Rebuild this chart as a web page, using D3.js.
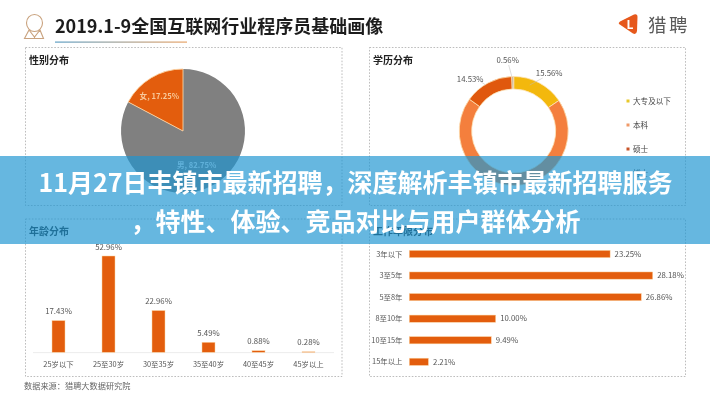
<!DOCTYPE html>
<html><head><meta charset="utf-8">
<script src="https://cdnjs.cloudflare.com/ajax/libs/d3/7.8.5/d3.min.js"></script>
<style>html,body{margin:0;padding:0;background:#fff}svg{display:block}
text{font-family:"Noto Sans CJK SC","Noto Sans",sans-serif}</style></head><body>
<svg id="c" width="710" height="400"></svg>
<script>
const pageTitle = "2019.1-9全国互联网行业程序员基础画像";
const brand = "猎聘";
const source = "数据来源：猎聘大数据研究院";
const bannerLines = ["11月27日丰镇市最新招聘，深度解析丰镇市最新招聘服务", "，特性、体验、竞品对比与用户群体分析"];
const panelTitles = ["性别分布", "学历分布", "年龄分布", "工作年限分布"];

const genderNames = ["女", "男"];
const genderValues = [17.25, 82.75];

const eduNames = ["大专及以下", "本科", "硕士", "博士"];
const eduValues = [15.56, 69.35, 14.53, 0.56];
const eduColors = ["#f3b80f", "#f47f3d", "#e0590b", "#b9a99a"];

const ageNames = ["25岁以下", "25至30岁", "30至35岁", "35至40岁", "40至45岁", "45岁以上"];
const ageValues = [17.43, 52.96, 22.96, 5.49, 0.88, 0.28];

const yearNames = ["3年以下", "3至5年", "5至8年", "8至10年", "10至15年", "15年以上"];
const yearValues = [23.25, 28.18, 26.86, 10.00, 9.49, 2.21];

const ORANGE = "#e35d08", EDGE = "#fbd3a4", TXT = "#555";
const svg = d3.select("#c");
const defs = svg.append("defs");
const grad = defs.append("linearGradient").attr("id", "ul");
grad.append("stop").attr("offset", "0").attr("stop-color", "#5f9fc4");
grad.append("stop").attr("offset", "1").attr("stop-color", "#e8a468");
defs.append("filter").attr("id", "soft").attr("x", "-5%").attr("y", "-5%").attr("width", "110%").attr("height", "110%")
  .append("feGaussianBlur").attr("stdDeviation", 0.35);

const g = svg.append("g").attr("filter", "url(#soft)");
const pct = v => v.toFixed(2) + "%";

// header
g.append("text").attr("x", 55).attr("y", 33).attr("font-size", 18).attr("font-weight", 700).attr("fill", "#1c1c1c").text(pageTitle);
g.append("rect").attr("x", 55).attr("y", 41.5).attr("width", 132).attr("height", 1.2).attr("fill", "url(#ul)");
// person icon
const ic = g.append("g").attr("fill", "none").attr("stroke", "#c9a27e").attr("stroke-width", 1.1);
ic.append("ellipse").attr("cx", 34.5).attr("cy", 23).attr("rx", 8).attr("ry", 8.5);
ic.append("path").attr("d", "M29 30 L24.5 38.5 L43.5 38.5 L40 30 M29 30 L34.5 37 L40 30 M34.5 37 L34.5 38.5");
// logo
g.append("path").attr("d", "M619 24 Q618 23 620 21.5 L634 14.5 Q637.5 13.5 637.5 17 L637 31 Q636.5 35 633 33.5 Z").attr("fill", "#e6591a");
g.append("text").attr("x", 630).attr("y", 29).attr("font-size", 12).attr("font-weight", 700).attr("fill", "#fff").attr("text-anchor", "middle").text("L");
g.append("text").attr("x", 648).attr("y", 31.5).attr("font-size", 18.5).attr("letter-spacing", 2.5).attr("fill", "#5a5a5a").text(brand);

// panels
const panelX = [25.5, 369.5], panelY = [47.5, 219];
const panelW = [316.5, 316], panelH = [158, 157.5];
[0, 1, 2, 3].forEach(i => {
  const x = panelX[i % 2], y = panelY[i >> 1];
  g.append("rect").attr("x", x).attr("y", y).attr("width", panelW[i % 2]).attr("height", panelH[i >> 1])
    .attr("fill", "none").attr("stroke", "#a0a0a0").attr("stroke-width", 0.7).attr("stroke-dasharray", "1.6 1.6");
  g.append("text").attr("x", x + 3.5).attr("y", y + 16).attr("font-size", 10).attr("font-weight", 700).attr("fill", "#222").text(panelTitles[i]);
});

// gender pie
const pieG = g.append("g").attr("transform", "translate(183,131)");
const tau = 2 * Math.PI;
const genderPie = d3.pie().sort(null).startAngle(-tau * genderValues[0] / 100).endAngle(tau * (1 - genderValues[0] / 100))(genderValues);
const pieArc = d3.arc().innerRadius(0).outerRadius(62);
const genderFill = [ORANGE, "#808080"], genderStroke = [EDGE, "#808080"];
pieG.selectAll("path").data([genderPie[1], genderPie[0]]).join("path").attr("d", pieArc)
  .attr("fill", (d, i) => genderFill[1 - i]).attr("stroke", (d, i) => genderStroke[1 - i]).attr("stroke-width", (d, i) => i ? 0.9 : 0);
const labelArc = d3.arc().innerRadius(40).outerRadius(40);
const genderLabelShift = [[-3, 2.5], [-7, 2.8]];
pieG.selectAll("text").data(genderPie).join("text")
  .attr("transform", (d, i) => { const c = labelArc.centroid(d); return `translate(${c[0] + genderLabelShift[i][0]},${c[1] + genderLabelShift[i][1]})`; })
  .attr("text-anchor", "middle").attr("font-size", 7.6).attr("font-weight", 700).attr("fill", (d, i) => i ? "#e8e8e8" : "#f8c79a")
  .text((d, i) => `${genderNames[i]}, ${pct(d.value)}`);

// education donut
const donG = g.append("g").attr("transform", "translate(513.7,131)");
const eduPie = d3.pie().sort(null)(eduValues);
const donArc = d3.arc().innerRadius(42).outerRadius(54.5);
donG.selectAll("path").data(eduPie).join("path").attr("d", donArc)
  .attr("fill", (d, i) => eduColors[i]).attr("stroke", "#fde3b8").attr("stroke-width", 0.8);
const eduLabelPos = [[35.5, -58], null, [-43.5, -52], [-6, -70.5]];
const eduLeadEnd = [[16, -46], null, [-28, -46], [-2, -55]];
const eduLeadStart = [[29, -53], null, [-34, -50], [-5, -66]];
eduValues.forEach((v, i) => {
  if (!eduLabelPos[i]) return;
  donG.append("line").attr("x1", eduLeadStart[i][0]).attr("y1", eduLeadStart[i][1]).attr("x2", eduLeadEnd[i][0]).attr("y2", eduLeadEnd[i][1])
    .attr("stroke", "#bbb").attr("stroke-width", 0.5);
  donG.append("text").attr("x", eduLabelPos[i][0]).attr("y", eduLabelPos[i][1] + 2.7).attr("text-anchor", "middle")
    .attr("font-size", 7.8).attr("fill", TXT).text(pct(v));
});
const legY = d3.scalePoint().domain(eduNames).range([101, 173]);
const legendColors = ["#e8c82a", "#f09a68", "#c8552a", "#8a8a8a"];
eduNames.forEach((n, i) => {
  g.append("rect").attr("x", 626.5).attr("y", legY(n) - 1.5).attr("width", 3).attr("height", 3).attr("fill", legendColors[i]);
  g.append("text").attr("x", 633).attr("y", legY(n) + 2.7).attr("font-size", 7.6).attr("fill", "#444").text(n);
});

// age bars
const ageX = d3.scaleBand().domain(ageNames).range([33.5, 333.5]).paddingInner(0.74).paddingOuter(0.37);
const ageY = d3.scaleLinear().domain([0, 52.96]).range([352.3, 256]);
g.append("line").attr("x1", 33).attr("x2", 334).attr("y1", 352.6).attr("y2", 352.6).attr("stroke", "#e4e4e4").attr("stroke-width", 0.7);
const ageG = g.append("g");
ageG.selectAll("rect").data(ageValues).join("rect")
  .attr("x", (d, i) => ageX(ageNames[i])).attr("width", ageX.bandwidth())
  .attr("y", d => ageY(d)).attr("height", d => ageY(0) - ageY(d))
  .attr("fill", ORANGE).attr("stroke", EDGE).attr("stroke-width", 0.5);
ageG.selectAll("text.v").data(ageValues).join("text").attr("class", "v")
  .attr("x", (d, i) => ageX(ageNames[i]) + ageX.bandwidth() / 2).attr("y", d => ageY(d) - 6.5)
  .attr("text-anchor", "middle").attr("font-size", 7.8).attr("fill", TXT).text(pct);
ageG.selectAll("text.n").data(ageNames).join("text").attr("class", "n")
  .attr("x", n => ageX(n) + ageX.bandwidth() / 2).attr("y", 367)
  .attr("text-anchor", "middle").attr("font-size", 7.4).attr("fill", TXT).text(n => n);

// years bars
const yrX = d3.scaleLinear().domain([0, 28.18]).range([409.3, 652.7]);
const yrY = d3.scalePoint().domain(yearNames).range([254, 361.8]);
const yrG = g.append("g");
yrG.selectAll("rect").data(yearValues).join("rect")
  .attr("x", yrX(0)).attr("y", (d, i) => yrY(yearNames[i]) - 3.6).attr("height", 7.2)
  .attr("width", d => yrX(d) - yrX(0)).attr("fill", ORANGE).attr("stroke", EDGE).attr("stroke-width", 0.5);
yrG.selectAll("text.v").data(yearValues).join("text").attr("class", "v")
  .attr("x", d => yrX(d) + 4.5).attr("y", (d, i) => yrY(yearNames[i]) + 2.8)
  .attr("font-size", 7.8).attr("fill", TXT).text(pct);
yrG.selectAll("text.n").data(yearNames).join("text").attr("class", "n")
  .attr("x", 402.5).attr("y", n => yrY(n) + 2.6).attr("text-anchor", "end")
  .attr("font-size", 7.4).attr("fill", TXT).text(n => n);

g.append("text").attr("x", 24).attr("y", 389).attr("font-size", 8.2).attr("fill", "#666").text(source);

// banner
svg.append("rect").attr("x", 0).attr("y", 156).attr("width", 710).attr("height", 88).attr("fill", "rgb(30,149,209)").attr("opacity", 0.68);
const bannerG = svg.append("g").attr("filter", "url(#soft)");
const bannerY = [192, 230.5];
bannerLines.forEach((t, i) => bannerG.append("text").attr("x", 355.5).attr("y", bannerY[i]).attr("text-anchor", "middle")
  .attr("font-size", 25).attr("font-weight", 700).attr("fill", "#fff").text(t));
</script></body></html>
